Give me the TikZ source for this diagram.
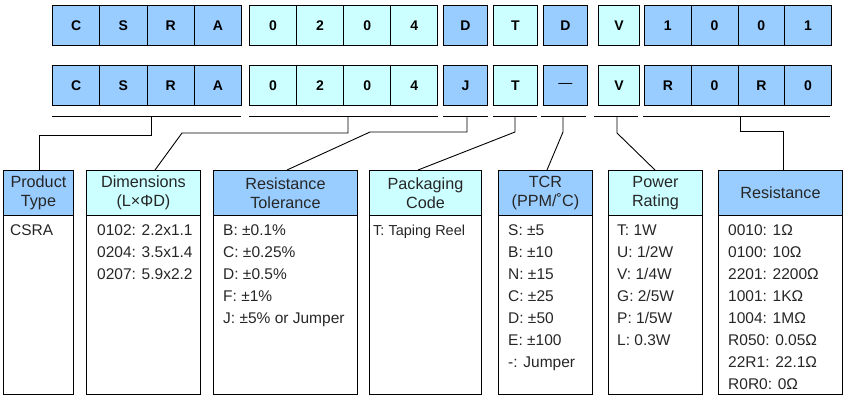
\documentclass[tikz,border=0pt]{standalone}
\usepackage{fontspec}
\setmainfont{Liberation Sans}
\definecolor{cblue}{HTML}{99CCFF}
\definecolor{ccyan}{HTML}{CCFFFF}
\begin{document}
\begin{tikzpicture}[x=1pt,y=-1pt,
  cell/.style={draw=black,line width=0.9pt,anchor=north west,minimum height=40pt,inner sep=0pt,font=\fontsize{14}{16}\selectfont\bfseries},
  bcell/.style={cell,fill=cblue},
  ccell/.style={cell,fill=ccyan},
  hdr/.style={draw=black,line width=0.9pt,anchor=north west,minimum height=45pt,inner sep=0pt,align=center,font=\fontsize{16.2}{19}\selectfont,text=black!85},
  bodybox/.style={draw=black,line width=0.9pt,anchor=north west,minimum height=179pt,inner sep=0pt},
  btext/.style={anchor=north west,inner sep=0pt,align=left,font=\fontsize{15.5}{22}\selectfont,text=black!85},
  uline/.style={line width=0.9pt},
  conn/.style={line width=0.9pt}]
\useasboundingbox (0,0) rectangle (846,400);
% ---- code rows ----
\foreach \y/\r in {5/a,65/b}{
  \foreach \t [count=\i from 0] in {C,S,R,A}
    \node[bcell,minimum width=47.25pt] (\r g1c\i) at ({52+47.25*\i},\y) {\t};
  \foreach \t [count=\i from 0] in {0,2,0,4}
    \node[ccell,minimum width=47.1pt] (\r g2c\i) at ({249+47.1*\i},\y) {\t};
}
\node[bcell,minimum width=44pt] (ag3) at (443,5) {D};
\node[ccell,minimum width=44pt] (ag4) at (493,5) {T};
\node[bcell,minimum width=44pt] (ag5) at (543,5) {D};
\node[ccell,minimum width=41pt] (ag6) at (598,5) {V};
\foreach \t [count=\i from 0] in {1,0,0,1}
  \node[bcell,minimum width=46.75pt] (ag7c\i) at ({644+46.75*\i},5) {\t};
\node[bcell,minimum width=44pt] (bg3) at (443,65) {J};
\node[ccell,minimum width=44pt] (bg4) at (493,65) {T};
\node[bcell,minimum width=44pt] (bg5) at (543,65) {\mdseries —};
\node[ccell,minimum width=41pt] (bg6) at (598,65) {V};
\foreach \t [count=\i from 0] in {R,0,R,0}
  \node[bcell,minimum width=46.75pt] (bg7c\i) at ({644+46.75*\i},65) {\t};
% ---- underlines ----
\draw[uline] (52,116.5) -- (241,116.5);
\draw[uline] (249,116.5) -- (438,116.5);
\draw[uline] (443,116.5) -- (488,116.5);
\draw[uline] (493,116.5) -- (537,116.5);
\draw[uline] (541,116.5) -- (586,116.5);
\draw[uline] (594,116.5) -- (638,116.5);
\draw[uline] (643,116.5) -- (830,116.5);
% ---- headers and bodies ----
\node[hdr,fill=cblue,minimum width=70pt] (h1) at (3,170) {Product\\Type};
\node[hdr,fill=ccyan,minimum width=114pt] (h2) at (86,170) {Dimensions\\(L×ΦD)};
\node[hdr,fill=cblue,minimum width=144pt] (h3) at (213,170) {Resistance\\Tolerance};
\node[hdr,fill=ccyan,minimum width=112pt] (h4) at (369,170) {Packaging\\Code};
\node[hdr,fill=cblue,minimum width=94pt] (h5) at (498,170) {TCR\\(PPM/˚C)};
\node[hdr,fill=ccyan,minimum width=94pt] (h6) at (608,170) {Power\\Rating};
\node[hdr,fill=cblue,minimum width=124pt] (h7) at (718,170) {Resistance};
\node[bodybox,minimum width=70pt] (b1) at (3,215) {};
\node[bodybox,minimum width=114pt] (b2) at (86,215) {};
\node[bodybox,minimum width=144pt] (b3) at (213,215) {};
\node[bodybox,minimum width=112pt] (b4) at (369,215) {};
\node[bodybox,minimum width=94pt] (b5) at (498,215) {};
\node[bodybox,minimum width=94pt] (b6) at (608,215) {};
\node[bodybox,minimum width=124pt] (b7) at (718,215) {};
% ---- body texts ----
\node[btext] (t1) at (10,219.5) {\strut CSRA};
\node[btext] (t2) at (97,219.5) {\strut 0102: 2.2x1.1\\0204: 3.5x1.4\\0207: 5.9x2.2};
\node[btext] (t3) at (223,219.5) {\strut B: ±0.1\%\\C: ±0.25\%\\D: ±0.5\%\\F: ±1\%\\J: ±5\% or Jumper};
\node[btext,font=\fontsize{14.5}{22}\selectfont] (t4) at (373,219.5) {\strut T: Taping Reel};
\node[btext] (t5) at (508,219.5) {\strut S: ±5\\B: ±10\\N: ±15\\C: ±25\\D: ±50\\E: ±100\\-: Jumper};
\node[btext] (t6) at (617,219.5) {\strut T: 1W\\U: 1/2W\\V: 1/4W\\G: 2/5W\\P: 1/5W\\L: 0.3W};
\node[btext] (t7) at (728,219.5) {\strut 0010: 1Ω\\0100: 10Ω\\2201: 2200Ω\\1001: 1KΩ\\1004: 1MΩ\\R050: 0.05Ω\\22R1: 22.1Ω\\R0R0: 0Ω};
% ---- connector points ----
\coordinate (u1) at (151,116.5);
\coordinate (u2) at (348,116.5);
\coordinate (u3) at (467,116.5);
\coordinate (u4) at (515,116.5);
\coordinate (u5) at (563,116.5);
\coordinate (u6) at (617,116.5);
\coordinate (u7) at (740,116.5);
\coordinate (e1) at (39,170);
\coordinate (e2) at (155,170);
\coordinate (e3) at (287,170);
\coordinate (e4) at (418,170);
\coordinate (e5) at (547,170);
\coordinate (e6) at (655,170);
\coordinate (e7) at (783,170);
\coordinate (k2) at (182,133);
\coordinate (k3) at (370,132);
% ---- connectors ----
\draw[conn] (u1) |- (e1 |- 0,135) -- (e1);
\draw[conn] (u2) |- (k2) -- (e2);
\draw[conn] (u3) |- (k3) -- (e3);
\draw[conn] (u4) -- (515,132) -- (e4);
\draw[conn] (u5) -- (563,132) -- (e5);
\draw[conn] (u6) -- (617,133) -- (e6);
\draw[conn] (u7) |- (e7 |- 0,131) -- (e7);
\end{tikzpicture}
\end{document}
